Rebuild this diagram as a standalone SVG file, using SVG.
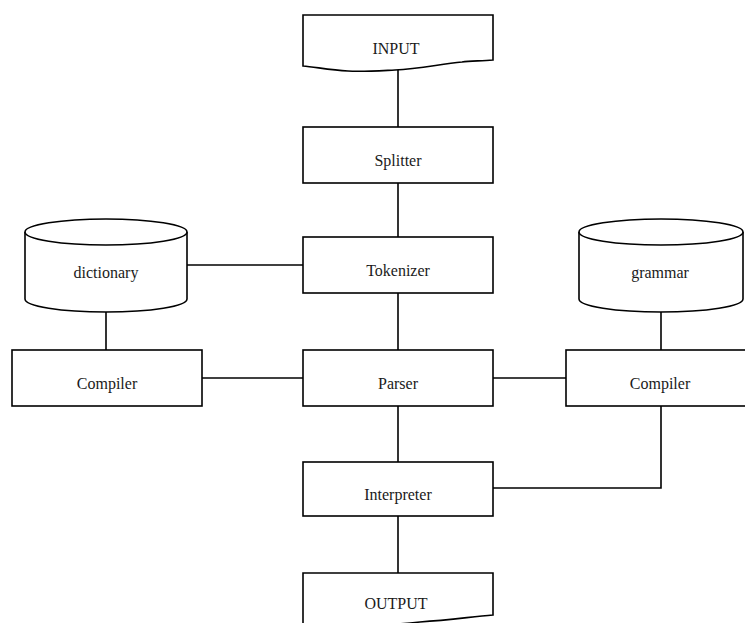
<svg xmlns="http://www.w3.org/2000/svg" width="745" height="623" viewBox="0 0 745 623">
  <style>
    .shape { fill: #ffffff; stroke: #000000; stroke-width: 1.6; }
    .edge { fill: none; stroke: #000000; stroke-width: 1.6; }
    .label { font-family: "Liberation Serif", "Times New Roman", serif; font-size: 16px; fill: #1a1a1a; text-anchor: middle; }
  </style>
  <rect x="0" y="0" width="745" height="623" fill="#ffffff"/>

  <g id="connectors">
    <line class="edge" x1="398" y1="68" x2="398" y2="127"/>
    <line class="edge" x1="398" y1="183" x2="398" y2="237"/>
    <line class="edge" x1="398" y1="293" x2="398" y2="350"/>
    <line class="edge" x1="398" y1="406" x2="398" y2="462"/>
    <line class="edge" x1="398" y1="516" x2="398" y2="573"/>
    <line class="edge" x1="187" y1="265" x2="303" y2="265"/>
    <line class="edge" x1="106" y1="312" x2="106" y2="350"/>
    <line class="edge" x1="202" y1="378" x2="303" y2="378"/>
    <line class="edge" x1="493" y1="378" x2="566" y2="378"/>
    <line class="edge" x1="661" y1="312" x2="661" y2="350"/>
    <polyline class="edge" points="661,406 661,488 493,488"/>
  </g>

  <g id="input">
    <path class="shape" d="M303,15 H493 V60 C480,61 470,61 462,62 C440,64 420,69 395,70 C375,71 360,72 348,71 C330,70 315,67 303,66 Z"/>
    <text class="label" x="396" y="54">INPUT</text>
  </g>

  <g id="splitter">
    <rect class="shape" x="303" y="127" width="190" height="56"/>
    <text class="label" x="398" y="166">Splitter</text>
  </g>

  <g id="tokenizer">
    <rect class="shape" x="303" y="237" width="190" height="56"/>
    <text class="label" x="398" y="276">Tokenizer</text>
  </g>

  <g id="dictionary">
    <path class="shape" d="M25,232 V299 A81,13 0 0 0 187,299 V232"/>
    <ellipse class="shape" cx="106" cy="232" rx="81" ry="13"/>
    <text class="label" x="106" y="278">dictionary</text>
  </g>

  <g id="grammar">
    <path class="shape" d="M579,232 V299 A82,13 0 0 0 743,299 V232"/>
    <ellipse class="shape" cx="661" cy="232" rx="82" ry="13"/>
    <text class="label" x="660" y="278">grammar</text>
  </g>

  <g id="compiler-left">
    <rect class="shape" x="12" y="350" width="190" height="56"/>
    <text class="label" x="107" y="389">Compiler</text>
  </g>

  <g id="parser">
    <rect class="shape" x="303" y="350" width="190" height="56"/>
    <text class="label" x="398" y="389">Parser</text>
  </g>

  <g id="compiler-right">
    <rect class="shape" x="566" y="350" width="190" height="56"/>
    <text class="label" x="660" y="389">Compiler</text>
  </g>

  <g id="interpreter">
    <rect class="shape" x="303" y="462" width="190" height="54"/>
    <text class="label" x="398" y="500">Interpreter</text>
  </g>

  <g id="output">
    <path class="shape" d="M303,573 H493 V615 C470,617 450,620 420,622 C400,624 380,626 350,627 L303,627 Z"/>
    <text class="label" x="396" y="609">OUTPUT</text>
  </g>
</svg>
